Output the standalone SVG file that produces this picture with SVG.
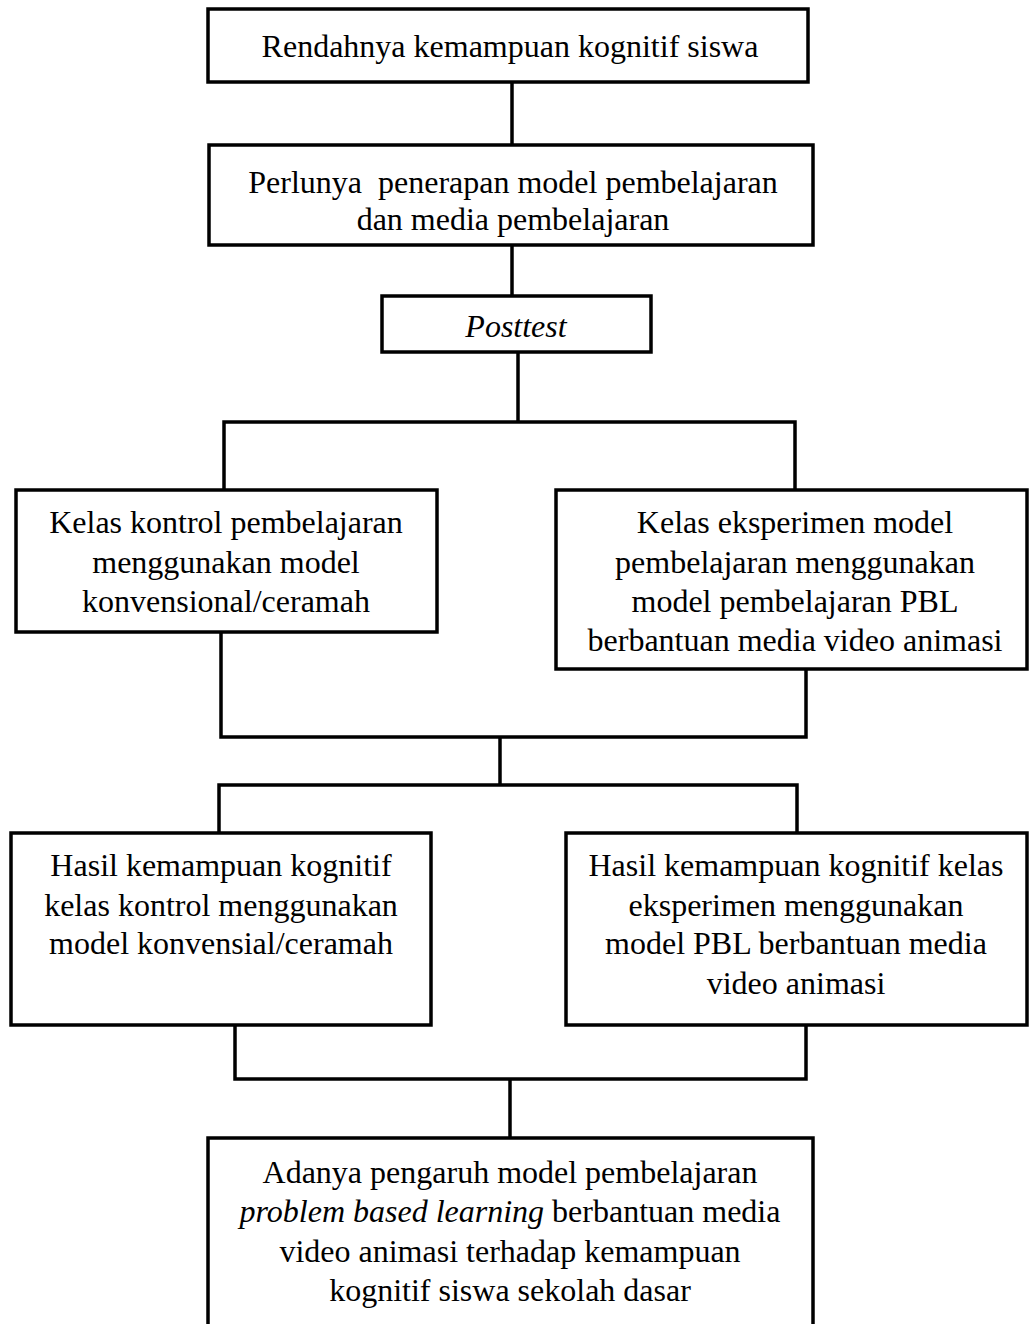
<svg xmlns="http://www.w3.org/2000/svg" width="1029" height="1324" viewBox="0 0 1029 1324">
<style>
.box{fill:#fff;stroke:#000;stroke-width:3.5}
.ln{fill:none;stroke:#000;stroke-width:3.5}
text{font-family:"Liberation Serif","Times New Roman",serif;font-size:32px;fill:#000;text-anchor:middle}
.it{font-style:italic}
</style>
<rect width="1029" height="1324" fill="#fff"/>
<g id="connectors">
<line class="ln" x1="512" y1="82" x2="512" y2="145"/>
<line class="ln" x1="512" y1="245" x2="512" y2="296"/>
<line class="ln" x1="518" y1="352" x2="518" y2="422"/>
<polyline class="ln" points="224,490 224,422 795,422 795,490"/>
<polyline class="ln" points="221,632 221,737 806,737 806,669"/>
<line class="ln" x1="500" y1="737" x2="500" y2="785"/>
<polyline class="ln" points="219,833 219,785 797,785 797,833"/>
<polyline class="ln" points="235,1025 235,1079 806,1079 806,1025"/>
<line class="ln" x1="510" y1="1079" x2="510" y2="1138"/>
</g>
<g id="n1">
<rect class="box" x="208" y="9" width="600" height="73"/>
<text x="510" y="57">Rendahnya kemampuan kognitif siswa</text>
</g>
<g id="n2">
<rect class="box" x="209" y="145" width="604" height="100"/>
<text x="513" y="193" xml:space="preserve">Perlunya  penerapan model pembelajaran</text>
<text x="513" y="230">dan media pembelajaran</text>
</g>
<g id="n3">
<rect class="box" x="382" y="296" width="269" height="56"/>
<text class="it" x="516" y="337">Posttest</text>
</g>
<g id="n4">
<rect class="box" x="16" y="490" width="421" height="142"/>
<text x="226" y="533">Kelas kontrol pembelajaran</text>
<text x="226" y="573">menggunakan model</text>
<text x="226" y="612">konvensional/ceramah</text>
</g>
<g id="n5">
<rect class="box" x="556" y="490" width="471" height="179"/>
<text x="795" y="533">Kelas eksperimen model</text>
<text x="795" y="573">pembelajaran menggunakan</text>
<text x="795" y="612">model pembelajaran PBL</text>
<text x="795" y="651">berbantuan media video animasi</text>
</g>
<g id="n6">
<rect class="box" x="11" y="833" width="420" height="192"/>
<text x="221" y="876">Hasil kemampuan kognitif</text>
<text x="221" y="916">kelas kontrol menggunakan</text>
<text x="221" y="954">model konvensial/ceramah</text>
</g>
<g id="n7">
<rect class="box" x="566" y="833" width="461" height="192"/>
<text x="796" y="876">Hasil kemampuan kognitif kelas</text>
<text x="796" y="916">eksperimen menggunakan</text>
<text x="796" y="954">model PBL berbantuan media</text>
<text x="796" y="994">video animasi</text>
</g>
<g id="n8">
<rect class="box" x="208" y="1138" width="605" height="200"/>
<text x="510" y="1183">Adanya pengaruh model pembelajaran</text>
<text x="510" y="1222"><tspan class="it">problem based learning</tspan> berbantuan media</text>
<text x="510" y="1262">video animasi terhadap kemampuan</text>
<text x="510" y="1301">kognitif siswa sekolah dasar</text>
</g>
</svg>
